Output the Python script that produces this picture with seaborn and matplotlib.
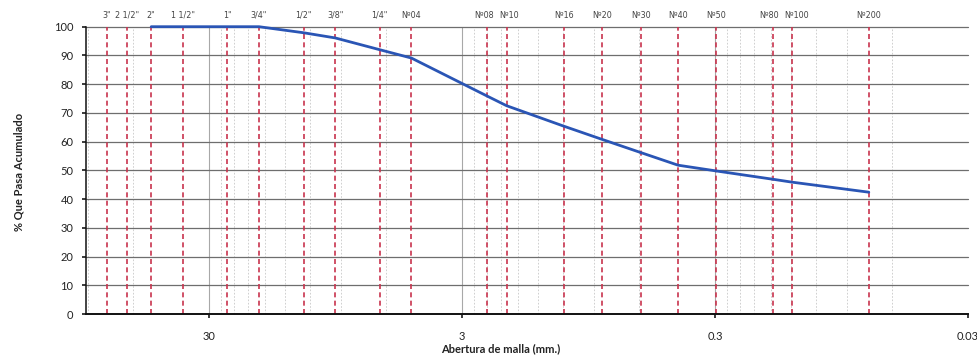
import numpy as np
import pandas as pd
import matplotlib
matplotlib.use("Agg")
import matplotlib.pyplot as plt
from matplotlib.transforms import offset_copy
import seaborn as sns

# Sieve series (ASTM) and their openings in mm
sieve_labels = ['3"', '2 1/2"', '2"', '1 1/2"', '1"', '3/4"', '1/2"', '3/8"', '1/4"',
                'Nº04', 'Nº08', 'Nº10', 'Nº16', 'Nº20', 'Nº30', 'Nº40', 'Nº50',
                'Nº80', 'Nº100', 'Nº200']
sieve_mm = [76.2, 63.5, 50.8, 38.1, 25.4, 19.05, 12.7, 9.525, 6.35,
            4.76, 2.38, 2.0, 1.19, 0.84, 0.59, 0.42, 0.297,
            0.177, 0.149, 0.074]

# Grading curve: opening (mm) and cumulative percent passing
curve_mm = [50.8, 38.1, 25.4, 19.05, 12.7, 9.525, 6.35, 4.76, 2.38, 2.0,
            1.19, 0.84, 0.59, 0.42, 0.297, 0.177, 0.149, 0.074]
curve_pass = [100, 100, 100, 100, 97.9, 96.1, 92.0, 89.1, 75.8, 72.5,
              65.4, 60.8, 56.2, 51.8, 49.8, 46.9, 45.9, 42.4]

x_ticks = [30, 3, 0.3, 0.03]
x_tick_labels = ["30", "3", "0.3", "0.03"]
y_ticks = list(range(0, 101, 10))

sns.set_theme(style="white")
plt.rcParams["font.family"] = ["Lato", "DejaVu Sans"]

fig = plt.figure(figsize=(9.77, 3.59), dpi=100)
ax = fig.add_axes([0.088, 0.1253, 0.9028, 0.8003])

ax.set_xscale("log")
ax.set_xlim(92, 0.03)
ax.set_ylim(0, 100)

# minor gridlines at 2..9 times each decade base (0.03, 0.3, 3, 30)
for base in [0.03, 0.3, 3, 30]:
    for k in range(2, 10):
        v = base * k
        if 0.03 < v < 92:
            ax.axvline(v, color="#c8c8c8", lw=0.6, ls=(0, (2, 2)), zorder=1)
for v in x_ticks[:-1]:
    ax.axvline(v, color="#a8a8a8", lw=0.8, zorder=1)

for v in y_ticks[1:]:
    ax.axhline(v, color="#6e6e6e", lw=0.9, zorder=1)

# sieve reference lines with their names above the plot;
# closely spaced neighbours are nudged apart a little
nudge_pt = {"Nº08": -2.5, "Nº10": 2.0, "Nº80": -3.0, "Nº100": 3.0}
for lab, mm in zip(sieve_labels, sieve_mm):
    ax.axvline(mm, color="#c8344e", lw=1.2, ls=(0, (3, 2)), zorder=2)
    tr = offset_copy(ax.transData, fig=fig, x=nudge_pt.get(lab, 0.0), y=0,
                     units="points")
    ax.text(mm, 102.5, lab, ha="center", va="bottom", fontsize=5.8,
            family=["Liberation Sans Narrow", "DejaVu Sans"],
            color="#444444", transform=tr, clip_on=False)

df = pd.DataFrame({"abertura": curve_mm, "pasa": curve_pass})
sns.lineplot(data=df, x="abertura", y="pasa", ax=ax, color="#2a55b5",
             lw=2.0, zorder=3, sort=False)
for ln in ax.lines:
    ln.set_clip_on(False)

ax.set_xticks(x_ticks)
ax.set_xticklabels(x_tick_labels)
ax.xaxis.set_minor_locator(matplotlib.ticker.NullLocator())
ax.set_yticks(y_ticks)
ax.tick_params(axis="both", labelsize=8, colors="#222222", length=3,
               direction="out", bottom=True, left=True, pad=6)
ax.tick_params(axis="x", pad=9)

for side in ["top", "right"]:
    ax.spines[side].set_visible(False)
ax.spines["left"].set_color("#111111")
ax.spines["left"].set_linewidth(1.1)
ax.spines["bottom"].set_color("#111111")
ax.spines["bottom"].set_linewidth(1.4)

ax.set_xlabel("")
ax.set_ylabel("")
fig.text(0.512, 0.03, "Abertura de malla (mm.)", ha="center", va="center",
         fontsize=8, fontweight="bold", color="#222222")
fig.text(0.019, 0.52, "% Que Pasa Acumulado", ha="center", va="center",
         rotation=90, fontsize=8, fontweight="bold", color="#222222")

fig.savefig("out.png", dpi=100)
